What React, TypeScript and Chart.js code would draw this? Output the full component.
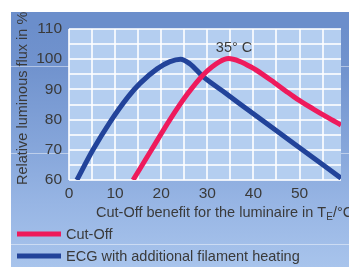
import React, { useEffect, useRef } from 'react';
import { Chart, registerables } from 'chart.js';

Chart.register(...registerables);

// Cut-Off curve (x: °C benefit, y: relative luminous flux %)
const cutOffX = [13.9, 17.9, 21.9, 25.6, 29.1, 32.6, 34.6, 37, 39.5, 42, 44.5, 47, 49.5, 53, 56, 59];
const cutOffY = [60, 70, 80, 88.3, 94.8, 99.1, 100.2, 99.3, 97.4, 95, 92.3, 89.5, 86.8, 83.5, 80.8, 78.2];
// ECG with additional filament heating
const ecgX = [1.7, 5.2, 8.9, 12.9, 15.4, 19.1, 21.9, 24.2, 26.2, 29.1, 34.2, 39.1, 44.2, 49.2, 59];
const ecgY = [60, 70, 79.2, 87.7, 92, 96.8, 99.2, 100, 98.5, 94.2, 88.5, 82.9, 77.2, 71.6, 60.6];

const seriesLabels = ['Cut-Off', 'ECG with additional filament heating'];
const seriesColors = ['#ee1a5c', '#22439a'];
const peakLabel = '35° C';
const peakLabelX = 35.8;
const peakLabelY = 102.3;
const xTitleMain = 'Cut-Off benefit for the luminaire in T';
const xTitleSub = 'E';
const xTitleTail = '/°C';
const yTitle = 'Relative luminous flux in %';

const FONT = '"Liberation Sans", Arial, Helvetica, sans-serif';
const TEXT = '#3a3a3a';

const bgPlugin = {
  id: 'bgPlugin',
  beforeDraw(chart: any) {
    const { ctx, chartArea: a, width, height } = chart;
    ctx.save();
    ctx.fillStyle = '#ffffff';
    ctx.fillRect(0, 0, width, height);
    const g = ctx.createLinearGradient(0, 12, 0, height);
    g.addColorStop(0, '#6a8dca');
    g.addColorStop(0.22, '#7193ce');
    g.addColorStop(0.55, '#87a7db');
    g.addColorStop(0.75, '#97b5e4');
    g.addColorStop(1, '#a8c4ec');
    ctx.fillStyle = g;
    ctx.fillRect(11, 12, width - 11, height - 12);
    ctx.fillStyle = '#6b8ecb';
    ctx.fillRect(11, 12, width - 11, a.top - 12);
    ctx.fillStyle = '#b4cef0';
    ctx.fillRect(a.left, a.top, a.right - a.left, a.bottom - a.top);
    ctx.fillStyle = 'rgba(255,255,255,0.45)';
    ctx.fillRect(11, 66, a.left - 11, 1);
    ctx.fillRect(11, 153, a.left - 11, 1);
    ctx.fillRect(a.right, 66, width - a.right, 1);
    ctx.fillRect(a.right, 153, width - a.right, 1);
    ctx.fillRect(11, 244, width - 11, 1);
    ctx.restore();
  },
  afterDraw(chart: any) {
    const { ctx, scales } = chart;
    ctx.save();
    ctx.fillStyle = TEXT;
    ctx.font = `14.5px ${FONT}`;
    ctx.textBaseline = 'alphabetic';
    // peak label
    ctx.textAlign = 'center';
    ctx.fillText(peakLabel, scales.x.getPixelForValue(peakLabelX), scales.y.getPixelForValue(peakLabelY));
    // x title
    ctx.textAlign = 'left';
    let x = 96;
    const base = 217;
    ctx.fillText(xTitleMain, x, base);
    x += ctx.measureText(xTitleMain).width;
    ctx.font = `10px ${FONT}`;
    ctx.fillText(xTitleSub, x, base + 3);
    x += ctx.measureText(xTitleSub).width;
    ctx.font = `14.5px ${FONT}`;
    ctx.fillText(xTitleTail, x, base);
    // y title
    ctx.save();
    ctx.translate(27, 185);
    ctx.rotate(-Math.PI / 2);
    ctx.fillText(yTitle, 0, 0);
    ctx.restore();
    // legend
    const rows = [234, 256];
    seriesLabels.forEach((lab, i) => {
      ctx.fillStyle = seriesColors[i];
      ctx.fillRect(17, rows[i] - 2.5, 44, 5);
      ctx.fillStyle = TEXT;
      ctx.fillText(lab, 66, rows[i] + 5);
    });
    ctx.restore();
  },
};

export default function App() {
  const ref = useRef<HTMLCanvasElement | null>(null);
  useEffect(() => {
    if (!ref.current) return;
    const mk = (xs: number[], ys: number[]) => xs.map((x, i) => ({ x, y: ys[i] }));
    const chart = new Chart(ref.current, {
      type: 'line',
      data: {
        datasets: [
          {
            label: seriesLabels[0],
            data: mk(cutOffX, cutOffY),
            borderColor: seriesColors[0],
            borderWidth: 5,
            pointRadius: 0,
            cubicInterpolationMode: 'monotone',
            clip: 0,
          } as any,
          {
            label: seriesLabels[1],
            data: mk(ecgX, ecgY),
            borderColor: seriesColors[1],
            borderWidth: 5,
            pointRadius: 0,
            cubicInterpolationMode: 'monotone',
            clip: 0,
          } as any,
        ],
      },
      options: {
        responsive: false,
        animation: false,
        events: [],
        layout: { padding: { left: 0, top: 29, right: 8, bottom: 0 } },
        plugins: { legend: { display: false }, tooltip: { enabled: false }, title: { display: false } },
        scales: {
          x: {
            type: 'linear',
            min: 0,
            max: 59,
            border: { display: false },
            grid: { color: 'rgba(255,255,255,0.8)', lineWidth: 2, drawTicks: false },
            ticks: {
              stepSize: 5,
              includeBounds: false,
              maxRotation: 0,
              autoSkip: false,
              padding: 4,
              color: TEXT,
              font: { family: FONT, size: 15.5 },
              callback: (v: any) => (Number(v) % 10 === 0 ? String(v) : ''),
            },
            afterFit: (s: any) => { s.height = 87; },
          },
          y: {
            type: 'linear',
            min: 60,
            max: 110,
            border: { display: false },
            grid: { color: 'rgba(255,255,255,0.8)', lineWidth: 2, drawTicks: false },
            ticks: {
              stepSize: 5,
              autoSkip: false,
              padding: 7,
              color: TEXT,
              font: { family: FONT, size: 15.5 },
              callback: (v: any) => (Number(v) % 10 === 0 ? String(v) : ''),
            },
            afterFit: (s: any) => { s.width = 69; },
          },
        },
      },
      plugins: [bgPlugin],
    });
    return () => chart.destroy();
  }, []);
  return (
    <div style={{ position: 'fixed', left: 0, top: 0, width: 349, height: 267 }}>
      <canvas ref={ref} width={349} height={267} style={{ display: 'block' }} />
    </div>
  );
}
